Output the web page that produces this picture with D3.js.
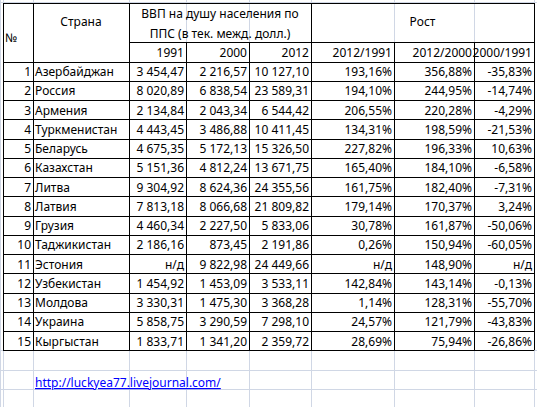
<!DOCTYPE html>
<html><head><meta charset="utf-8">
<script src="https://cdn.jsdelivr.net/npm/d3@7"></script>
<style>body{margin:0;background:#fff}</style>
</head><body><svg id="t" width="537" height="407"></svg>
<script>
const countries = ["Азербайджан","Россия","Армения","Туркменистан","Беларусь","Казахстан","Литва","Латвия","Грузия","Таджикистан","Эстония","Узбекистан","Молдова","Украина","Кыргыстан"];
const gdp1991 = ["3 454,47","8 020,89","2 134,84","4 443,45","4 675,35","5 151,36","9 304,92","7 813,18","4 460,34","2 186,16","н/д","1 454,92","3 330,31","5 858,75","1 833,71"];
const gdp2000 = ["2 216,57","6 838,54","2 043,34","3 486,88","5 172,13","4 812,24","8 624,36","8 066,68","2 227,50","873,45","9 822,98","1 453,09","1 475,30","3 290,59","1 341,20"];
const gdp2012 = ["10 127,10","23 589,31","6 544,42","10 411,45","15 326,50","13 671,75","24 355,56","21 809,82","5 833,06","2 191,86","24 449,66","3 533,11","3 368,28","7 298,10","2 359,72"];
const g12_91 = ["193,16%","194,10%","206,55%","134,31%","227,82%","165,40%","161,75%","179,14%","30,78%","0,26%","н/д","142,84%","1,14%","24,57%","28,69%"];
const g12_00 = ["356,88%","244,95%","220,28%","198,59%","196,33%","184,10%","182,40%","170,37%","161,87%","150,94%","148,90%","143,14%","128,31%","121,79%","75,94%"];
const g00_91 = ["-35,83%","-14,74%","-4,29%","-21,53%","10,63%","-6,58%","-7,31%","3,24%","-50,06%","-60,05%","н/д","-0,13%","-55,70%","-43,83%","-26,86%"];
const yearLabels = ["1991","2000","2012","2012/1991","2012/2000","2000/1991"];

const svg = d3.select("#t");
const font = "Noto Sans, sans-serif";
const fs = 12;
const colX = [3, 33, 129, 186, 249, 311, 394, 474, 534];
const x = i => colX[i];
const nRows = countries.length;
const dataTop = 61.5, rowH = 19.25;
const y = d3.scaleLinear().domain([0, nRows]).range([dataTop, dataTop + nRows * rowH]);
const tableBottom = y(nRows);

// excel background grid
const grid = svg.append("g").attr("stroke", "#d0d7e5").attr("stroke-width", 1);
[0, ...colX].forEach(cx => grid.append("line").attr("x1", cx + .5).attr("x2", cx + .5).attr("y1", 0).attr("y2", 407));
for (let k = 0; k < 4; k++) {
  const gy = Math.round(tableBottom + k * rowH) + .5;
  grid.append("line").attr("x1", 0).attr("x2", 537).attr("y1", gy).attr("y2", gy);
}
grid.append("line").attr("x1", 0).attr("x2", 537).attr("y1", 2.5).attr("y2", 2.5);

// table borders
const b = svg.append("g").attr("stroke", "#000").attr("stroke-width", 1);
const hl = (yy, a, c) => b.append("line").attr("x1", x(a)).attr("x2", x(c)).attr("y1", Math.round(yy) + .5).attr("y2", Math.round(yy) + .5);
const vl = (xx, y1, y2) => b.append("line").attr("x1", xx + .5).attr("x2", xx + .5).attr("y1", y1).attr("y2", y2);
hl(3, 0, 8);
hl(42, 2, 8);
for (let r = 0; r <= nRows; r++) hl(y(r), 0, 8);
colX.forEach((cx, i) => {
  if (i === 3 || i === 4 || i === 6 || i === 7) vl(cx, 42, tableBottom);
  else vl(cx, 3, tableBottom);
});

const txt = (s, tx, ty, anchor) => svg.append("text").attr("x", tx).attr("y", ty)
  .attr("text-anchor", anchor).attr("font-family", font).attr("font-size", fs).attr("fill", "#000").text(s);

// headers
txt("№", x(0) + 2, 42, "start");
txt("Страна", (x(1) + x(2)) / 2, 26, "middle");
txt("ВВП на душу населения по", (x(2) + x(5)) / 2, 18, "middle");
txt("ППС (в тек. межд. долл.)", (x(2) + x(5)) / 2, 38, "middle");
txt("Рост", (x(5) + x(8)) / 2, 26, "middle");
yearLabels.forEach((s, i) => txt(s, x(i + 3) - 2, 57, "end"));

// data
const cols = [gdp1991, gdp2000, gdp2012, g12_91, g12_00, g00_91];
countries.forEach((c, r) => {
  const ty = y(r) + 14.5;
  txt(String(r + 1), x(1) - 2, ty, "end");
  txt(c, x(1) + 2, ty, "start");
  cols.forEach((col, j) => txt(col[r], x(j + 3) - 2, ty, "end"));
});

// link
svg.append("text").attr("x", x(1) + 2).attr("y", 387).attr("font-family", font).attr("font-size", fs)
  .attr("fill", "#0000ff").attr("text-decoration", "underline").text("http://luckyea77.livejournal.com/");
</script></body></html>
